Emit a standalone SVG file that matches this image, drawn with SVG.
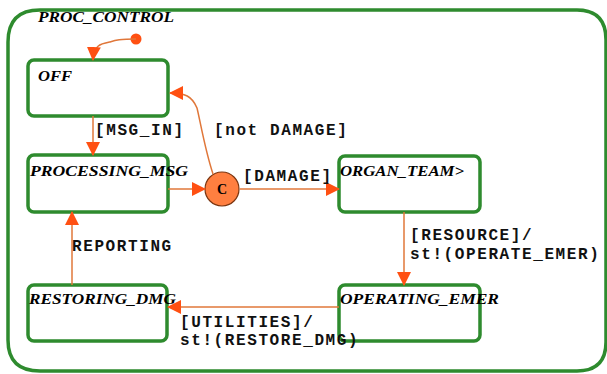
<svg xmlns="http://www.w3.org/2000/svg" width="607" height="374" viewBox="0 0 607 374">
<defs>
<style>
.st{fill:#fff;stroke:#2e8b2e;stroke-width:3.5}
.nm{font-family:"Liberation Serif",serif;font-weight:bold;font-style:italic;font-size:15px;fill:#000}
.lb{font-family:"Liberation Mono",monospace;font-weight:bold;font-size:16px;fill:#111;letter-spacing:1.6px}
.ln{fill:none;stroke:#e0773a;stroke-width:1.5}
</style>
<marker id="ah" markerWidth="14" markerHeight="14" refX="13" refY="7" orient="auto" markerUnits="userSpaceOnUse">
<path d="M0,0 L14,7 L0,14 Z" fill="#ff5012"/>
</marker>
</defs>
<rect width="607" height="374" fill="#fff"/>
<g id="PROC_CONTROL">
<path d="M40,10 H577 Q606,10 606,40 V342 Q606,371 577,371 H40 Q8,371 8,340 V42 Q8,10 40,10 Z" fill="none" stroke="#2e8b2e" stroke-width="3.5"/>
<text class="nm" x="38" y="22" textLength="136" lengthAdjust="spacingAndGlyphs">PROC_CONTROL</text>
</g>
<g id="OFF">
<rect class="st" x="28" y="60" width="140" height="56" rx="6"/>
<text class="nm" x="38" y="81" textLength="34" lengthAdjust="spacingAndGlyphs">OFF</text>
</g>
<g id="PROCESSING_MSG">
<rect class="st" x="28" y="155" width="140" height="57" rx="6"/>
<text class="nm" x="30" y="176" textLength="158" lengthAdjust="spacingAndGlyphs">PROCESSING_MSG</text>
</g>
<g id="ORGAN_TEAM">
<rect class="st" x="339" y="156" width="141" height="56" rx="6"/>
<text class="nm" x="340" y="176" textLength="124" lengthAdjust="spacingAndGlyphs">ORGAN_TEAM&gt;</text>
</g>
<g id="OPERATING_EMER">
<rect class="st" x="339" y="285" width="141" height="56" rx="6"/>
<text class="nm" x="340" y="304" textLength="159" lengthAdjust="spacingAndGlyphs">OPERATING_EMER</text>
</g>
<g id="RESTORING_DMG">
<rect class="st" x="28" y="285" width="139" height="56" rx="6"/>
<text class="nm" x="29" y="304" textLength="147" lengthAdjust="spacingAndGlyphs">RESTORING_DMG</text>
</g>
<g id="C">
<circle cx="222" cy="189" r="17" fill="#ff7f40" stroke="#7a3510" stroke-width="1.2"/>
<text x="222" y="194" text-anchor="middle" font-family="'Liberation Serif',serif" font-weight="bold" font-size="14" fill="#000">C</text>
</g>
<g id="connectors">
<circle cx="136" cy="39" r="5.5" fill="#ff5012"/>
<path class="ln" d="M136,39 C120,39 116,40 110,42 C100,44 94,45 93,60" marker-end="url(#ah)"/>
<path class="ln" d="M93,116 V155" marker-end="url(#ah)"/>
<path class="ln" d="M168,189 H205" marker-end="url(#ah)"/>
<path class="ln" d="M240,189 H339" marker-end="url(#ah)"/>
<path class="ln" d="M213,174 C205,150 200,120 197,108 C192,96 185,93 170,93" marker-end="url(#ah)"/>
<path class="ln" d="M404,212 V285" marker-end="url(#ah)"/>
<path class="ln" d="M339,307 H168" marker-end="url(#ah)"/>
<path class="ln" d="M72,285 V212" marker-end="url(#ah)"/>
<text class="lb" x="95" y="135">[MSG_IN]</text>
<text class="lb" x="214" y="135">[not DAMAGE]</text>
<text class="lb" x="243" y="181">[DAMAGE]</text>
<text class="lb" x="410" y="240">[RESOURCE]/</text>
<text class="lb" x="410" y="259">st!(OPERATE_EMER)</text>
<text class="lb" x="72" y="251">REPORTING</text>
<text class="lb" x="180" y="327">[UTILITIES]/</text>
<text class="lb" x="180" y="345">st!(RESTORE_DMG)</text>
</g>
</svg>
